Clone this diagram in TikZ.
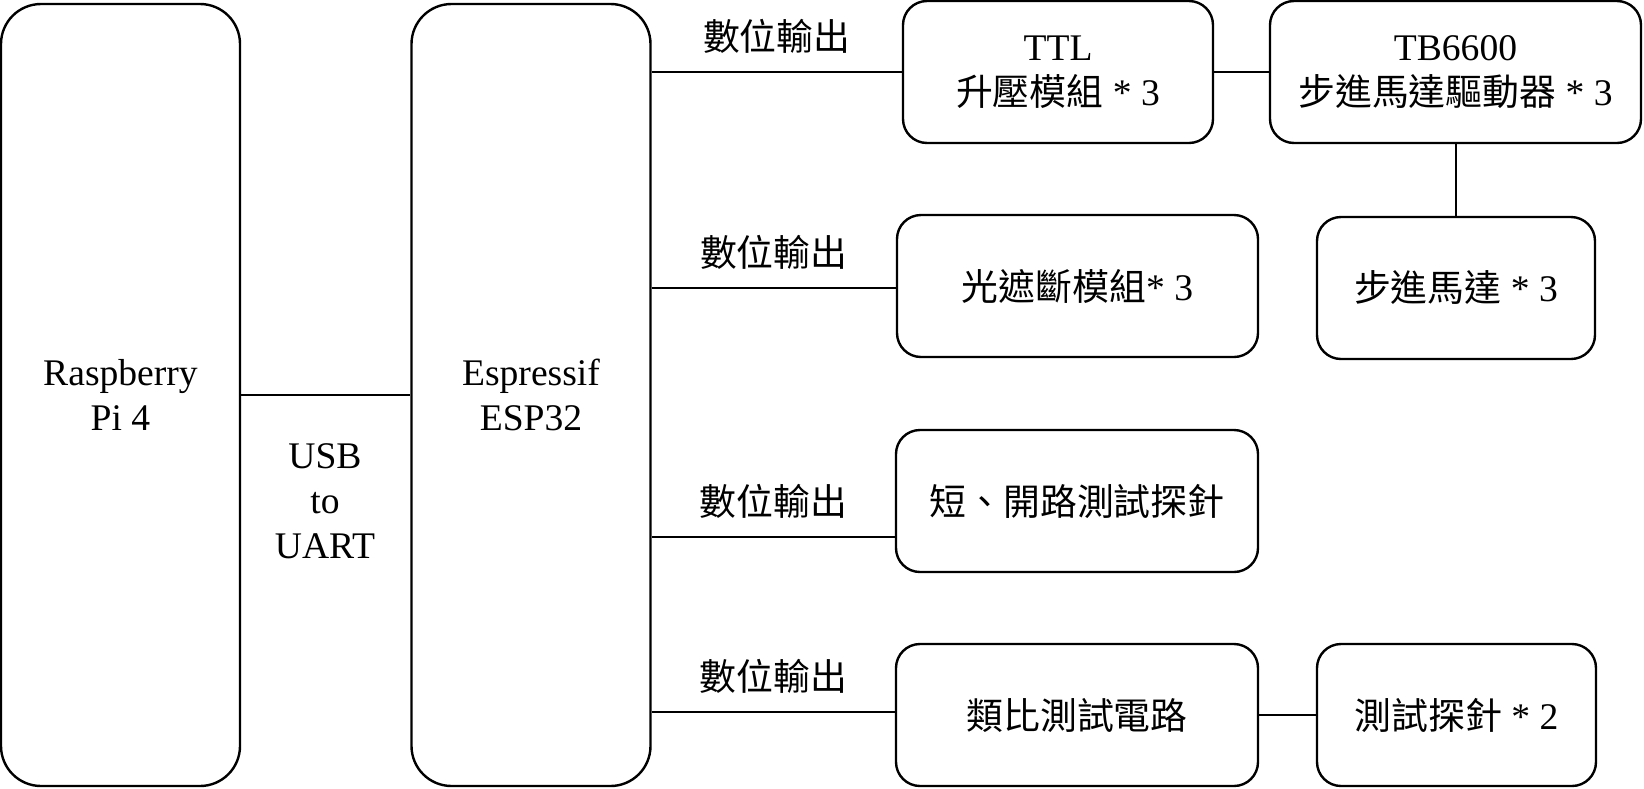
\documentclass[tikz,border=0pt]{standalone}
\usepackage{fontspec}
\setmainfont{Liberation Serif}
\newfontfamily\cjk{Noto Sans CJK TC}[Scale=0.98]

\begin{document}
\begin{tikzpicture}[x=0.5pt, y=-0.5pt,
    every node/.style={font=\fontsize{18.8}{22.5}\selectfont},
    board/.style={draw, line width=1.2pt, rounded corners=20pt, minimum width=119.5pt, minimum height=391pt, align=center},
    module/.style={draw, line width=1.2pt, rounded corners=12pt, minimum height=71pt, align=center},
    wire/.style={line width=1.4pt}]

    \useasboundingbox (0,0) rectangle (1644,788);

    % Boards
    \node[board] (rpi) at (120.5,395) {Raspberry\\Pi 4};
    \node[board] (esp) at (531,395) {Espressif\\ESP32};

    % Modules
    \node[module, minimum width=155pt] (ttl) at (1058,72) {TTL\\{\cjk 升壓模組} * 3};
    \node[module, minimum width=185.5pt] (tb) at (1455.5,72) {TB6600\\{\cjk 步進馬達驅動器} * 3};
    \node[module, minimum width=139pt] (motor) at (1456,288) {{\cjk 步進馬達} * 3};
    \node[module, minimum width=180.5pt] (photo) at (1077.5,286) {{\cjk 光遮斷模組}* 3};
    \node[module, minimum width=181pt] (probe) at (1077,501) {\cjk 短、開路測試探針};
    \node[module, minimum width=181pt] (analog) at (1077,715) {\cjk 類比測試電路};
    \node[module, minimum width=139.5pt] (tprobe) at (1456.5,715) {{\cjk 測試探針} * 2};

    % Connections
    \draw[wire] (rpi) -- (esp);
    \node[align=center] (usb) at (325,501) {USB\\to\\UART};

    \draw[wire] (esp.east |- ttl) -- (ttl) node[midway, above=5pt] {\cjk 數位輸出};
    \draw[wire] (esp.east |- 0,288) -- (photo.west |- 0,288) node[midway, above=5pt] {\cjk 數位輸出};
    \draw[wire] (esp.east |- 0,537) -- (probe.west |- 0,537) node[midway, above=5pt] {\cjk 數位輸出};
    \draw[wire] (esp.east |- 0,712) -- (analog.west |- 0,712) node[midway, above=5pt] {\cjk 數位輸出};

    \draw[wire] (ttl) -- (tb);
    \draw[wire] (motor |- tb.south) -- (motor.north);
    \draw[wire] (analog) -- (tprobe);
\end{tikzpicture}
\end{document}
